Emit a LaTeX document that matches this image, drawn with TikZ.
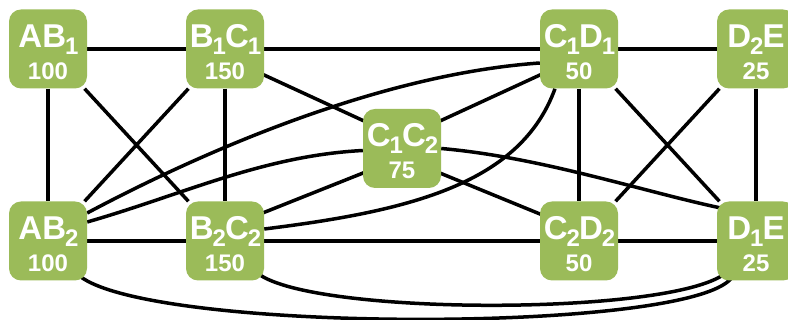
\documentclass[tikz,border=0pt]{standalone}
\usepackage{fontspec}
\setmainfont{Liberation Sans}
\usetikzlibrary{backgrounds}
\definecolor{boxgreen}{HTML}{9BBB59}
\newcommand{\lo}[1]{\kern-1pt\raisebox{-6.7pt}{\fontsize{24}{24}\selectfont#1}\kern-1pt}
\newcommand{\hi}[1]{{\fontsize{33}{32}\selectfont\rule{0pt}{29pt}#1}}

\begin{document}
\begin{tikzpicture}[x=1pt, y=1pt,
  item/.style={rectangle, rounded corners=12pt, fill=boxgreen, text=white, minimum width=78pt, minimum height=79pt, inner sep=0pt, align=center, font=\bfseries\fontsize{24}{32}\selectfont},
  link/.style={line width=3.5pt}]

\useasboundingbox (0,0) rectangle (788,320);

\node[item](ab1) at (48,271){\hi{AB\lo{1}}\\100};
\node[item](b1c1) at (225,271){\hi{B\lo{1}C\lo{1}}\\150};
\node[item](c1d1) at (579,271){\hi{C\lo{1}D\lo{1}}\\50};
\node[item](d2e) at (756,271){\hi{D\lo{2}E}\\25};
\node[item](c1c2) at (402,171.5){\hi{C\lo{1}C\lo{2}}\\75};
\node[item](ab2) at (48,79){\hi{AB\lo{2}}\\100};
\node[item](b2c2) at (225,79){\hi{B\lo{2}C\lo{2}}\\150};
\node[item](c2d2) at (579,79){\hi{C\lo{2}D\lo{2}}\\50};
\node[item](d1e) at (756,79){\hi{D\lo{1}E}\\25};

\begin{scope}[on background layer={link}]
\draw (ab1) -- (b1c1) -- (c1d1) -- (d2e);
\draw (ab2) -- (b2c2) -- (c2d2) -- (d1e);
\draw (ab1) -- (ab2) (b1c1) -- (b2c2) (c1d1) -- (c2d2) (d2e) -- (d1e);
\draw (ab1) -- (b2c2) (b1c1) -- (ab2) (c1d1) -- (d1e) (d2e) -- (c2d2);
\draw ([yshift=-8pt]b1c1.center) -- ([yshift=10pt]c1c2.center) -- ([yshift=-8pt]c1d1.center);
\draw ([yshift=13pt]b2c2.center) -- ([yshift=-9pt]c1c2.center) -- ([yshift=11pt]c2d2.center);
% curved links
\draw ([yshift=28pt]ab2.east) to[out=28, in=184, out distance=150pt, in distance=150pt] ([yshift=-14pt]c1d1.west);
\draw ([yshift=19pt]ab2.east) to[out=16, in=183, out distance=100pt, in distance=100pt] ([yshift=-2pt]c1c2.west);
\draw ([xshift=-24pt]c1d1.south) to[out=250, in=7, out distance=100pt, in distance=150pt] ([yshift=12pt]b2c2.east);
\draw (c1c2.east) to[out=-5, in=168, out distance=100pt, in distance=80pt] ([shift={(4pt,33pt)}]d1e.west);
\draw ([shift={(-8pt,5pt)}]ab2.south east) to[out=-39, in=233, out distance=92pt, in distance=70pt] ([shift={(15pt,3pt)}]d1e.south west);
\draw ([shift={(-6pt,7pt)}]b2c2.south east) to[out=-37, in=217, out distance=70pt, in distance=70pt] ([shift={(8pt,7pt)}]d1e.south west);
\end{scope}

\end{tikzpicture}
\end{document}
